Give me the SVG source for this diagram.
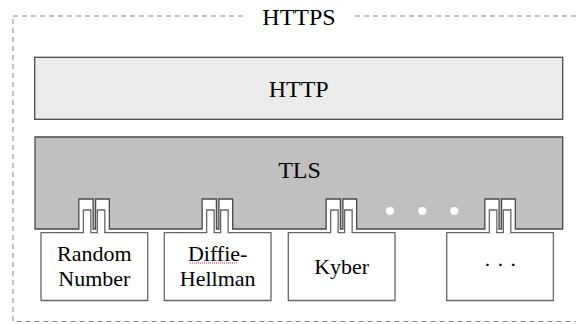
<svg xmlns="http://www.w3.org/2000/svg" width="576" height="324" viewBox="0 0 576 324">
<style>
text{font-family:"Liberation Serif","Times New Roman",serif;fill:#000;text-anchor:middle}
.layer{stroke:#4a4a4a;stroke-width:1.3}
.mod{fill:#fff;stroke:#666;stroke-width:1.3}
.t24{font-size:24px}
.t22{font-size:22px}
</style>
<rect width="576" height="324" fill="#fff"/>
<g id="https">
<rect x="13" y="16" width="571.5" height="305.5" fill="none" stroke="#888" stroke-width="1" stroke-dasharray="5,4"/>
<rect x="243" y="8" width="112" height="18" fill="#fff"/>
<text class="t24" x="299" y="25">HTTPS</text>
</g>
<g id="http">
<rect class="layer" x="34.7" y="57.3" width="528" height="62" fill="#ebebeb"/>
<text class="t24" x="298.7" y="97">HTTP</text>
</g>
<g id="tls">
<path class="layer" fill="#c0c0c0" d="M35,137 H562.7 V229 H515.35 V199 H501.6 V229 H499.1 V199 H484.85 V229 H356.65 V199 H342.9 V229 H340.4 V199 H326.15 V229 H232.65 V199 H218.9 V229 H216.4 V199 H202.15 V229 H109.35 V199 H95.6 V229 H93.1 V199 H78.85 V229 H35 Z"/>
<text class="t24" x="299.5" y="177.7">TLS</text>
<circle cx="390" cy="211" r="4" fill="#fff"/>
<circle cx="422.3" cy="211" r="4" fill="#fff"/>
<circle cx="454.3" cy="211" r="4" fill="#fff"/>
</g>
<g id="connectors"></g>
<g id="random">
<path class="mod" d="M41,232.7 H83.35 V210 H90.85 V232.7 H97.35 V210 H104.85 V232.7 H147.7 V300.5 H41 Z"/>
<text class="t22" x="94.35" y="260.7">Random</text>
<text class="t22" x="94.35" y="286">Number</text>
</g>
<g id="diffie">
<path class="mod" d="M164.3,232.7 H206.65 V210 H214.15 V232.7 H220.65 V210 H228.15 V232.7 H271 V300.5 H164.3 Z"/>
<text class="t22" x="217.65" y="260.7">Diffie-</text>
<path d="M190,263 H238" stroke="#d22" stroke-width="1" stroke-dasharray="1,1" fill="none"/>
<text class="t22" x="217.65" y="286">Hellman</text>
</g>
<g id="kyber">
<path class="mod" d="M288.3,232.7 H330.65 V210 H338.15 V232.7 H344.65 V210 H352.15 V232.7 H395 V300.5 H288.3 Z"/>
<text class="t22" x="341.65" y="274">Kyber</text>
</g>
<g id="more">
<path class="mod" d="M446.7,232.7 H489.35 V210 H496.85 V232.7 H503.35 V210 H510.85 V232.7 H553.4 V300.5 H446.7 Z"/>
<text class="t22" x="500.35" y="272">· · ·</text>
</g>
</svg>
